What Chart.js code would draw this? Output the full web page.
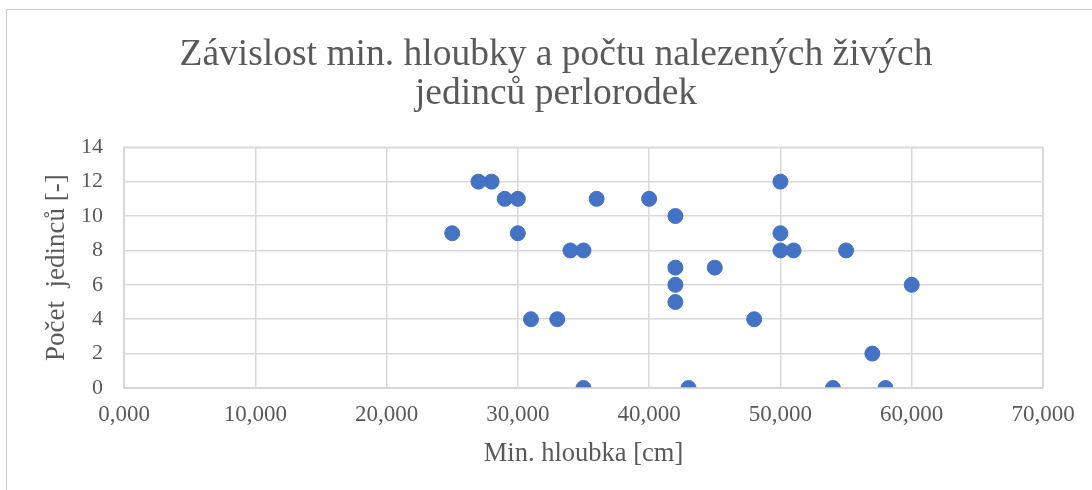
<!DOCTYPE html>
<html>
<head>
<meta charset="utf-8">
<script src="https://cdn.jsdelivr.net/npm/chart.js@4"></script>
<style>
  html, body { margin: 0; padding: 0; background: #fff; }
  #frame { position: absolute; left: 6px; top: 9px; width: 1200px; height: 600px; border: 1.5px solid #d0d0d0; box-sizing: border-box; }
  #wrap { position: absolute; left: 0; top: 0; width: 1092px; height: 490px; }
</style>
</head>
<body>
<div id="frame"></div>
<div id="wrap"><canvas id="c"></canvas></div>
<script>
const titleLines = ["Závislost min. hloubky a počtu nalezených živých", "jedinců perlorodek"];
const xTitle = "Min. hloubka [cm]";
const yTitle = "Počet  jedinců [-]";
const depths = [25, 27, 28, 29, 30, 30, 31, 33, 34, 35, 35, 36, 40, 42, 42, 42, 42, 43, 45, 48, 50, 50, 50, 51, 54, 55, 57, 58, 60];
const counts = [9, 12, 12, 11, 11, 9, 4, 4, 8, 8, 0, 11, 11, 10, 7, 6, 5, 0, 7, 4, 12, 9, 8, 8, 0, 8, 2, 0, 6];
const xTicks = [0, 10, 20, 30, 40, 50, 60, 70];
const yTicks = [0, 2, 4, 6, 8, 10, 12, 14];

const points = depths.map((d, i) => ({ x: d, y: counts[i] }));
const serif = "'Liberation Serif', 'Times New Roman', serif";
const grey = '#595959';

new Chart(document.getElementById('c'), {
  type: 'scatter',
  data: { datasets: [{ data: points, backgroundColor: '#4472C4', borderColor: '#4472C4', pointRadius: 7.5, pointHoverRadius: 7.5 }] },
  options: {
    responsive: true, maintainAspectRatio: false, animation: false,
    layout: { padding: { left: 69, right: 49, top: 0, bottom: 20 } },
    plugins: {
      legend: { display: false }, tooltip: { enabled: false },
      title: { display: true, text: titleLines, color: grey, font: { family: serif, size: 37.5, weight: 'normal', lineHeight: 1.05 }, padding: { top: 35, bottom: 33.5 } }
    },
    scales: {
      x: {
        type: 'linear', min: 0, max: 70,
        afterBuildTicks: s => { s.ticks = xTicks.map(v => ({ value: v })); },
        afterFit: s => { s.height = 82; },
        ticks: { color: grey, font: { family: serif, size: 23 }, padding: 13, maxRotation: 0, callback: v => v.toFixed(3).replace('.', ',') },
        grid: { color: '#d9d9d9', lineWidth: 1.5, drawTicks: false },
        border: { color: '#d0d0d0', width: 1.5 },
        title: { display: true, text: xTitle, color: grey, font: { family: serif, size: 26.5 }, padding: { top: 8, bottom: 0 } }
      },
      y: {
        min: 0, max: 14,
        afterBuildTicks: s => { s.ticks = yTicks.map(v => ({ value: v })); },
        afterFit: s => { s.width = 55; },
        ticks: { color: grey, font: { family: serif, size: 22 }, padding: 21 },
        grid: { color: '#d9d9d9', lineWidth: 1.5, drawTicks: false },
        border: { color: '#d0d0d0', width: 1.5 },
        title: { display: true, text: yTitle, color: grey, font: { family: serif, size: 27 }, padding: { top: -28, bottom: 0 } }
      }
    }
  },
  plugins: [{
    id: 'frameRight',
    afterDraw(chart) {
      const { ctx, chartArea: a } = chart;
      ctx.save();
      ctx.strokeStyle = '#d9d9d9'; ctx.lineWidth = 1.5;
      ctx.strokeRect(a.left, a.top, a.right - a.left, a.bottom - a.top);
      ctx.restore();
    }
  }]
});
</script>
</body>
</html>
